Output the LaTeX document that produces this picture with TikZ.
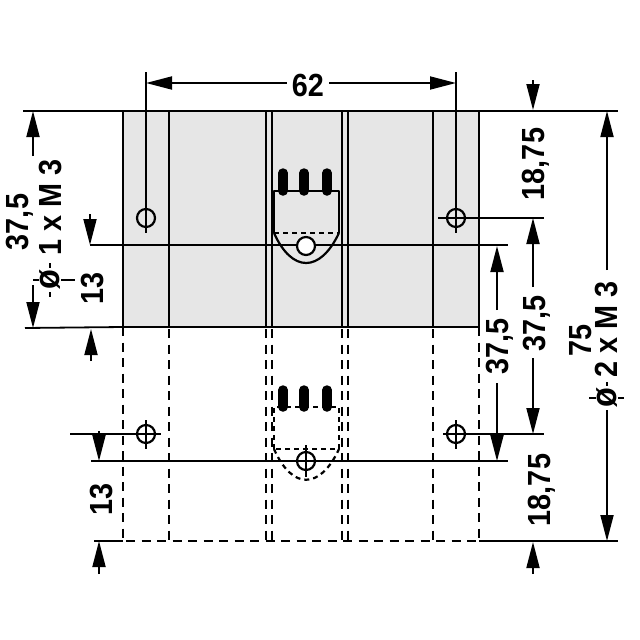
\documentclass[tikz,border=0pt]{standalone}
\usepackage{fontspec}
\setmainfont[FakeStretch=0.9]{Liberation Sans}
\usetikzlibrary{arrows.meta}
\definecolor{plategray}{HTML}{E6E6E6}
\tikzset{
  part/.style={line width=2.2pt},
  hidden/.style={line width=2.2pt, dash pattern=on 9pt off 6.5pt},
  thin line/.style={line width=1.8pt},
  dimarrow/.style={line width=1.8pt, -{Triangle[length=26pt,width=13pt]}},
  dimfont/.style={font=\fontsize{32}{32}\selectfont\bfseries, inner sep=0pt, text height=23pt, text depth=0pt},
  dimtext/.style={dimfont, rotate=90},
  diatext/.style={font=\fontsize{36}{36}\selectfont\bfseries, inner sep=0pt, text height=19pt, text depth=0pt, rotate=90},
  hole/.style={circle, draw, line width=2.2pt, minimum size=18pt, inner sep=0pt},
}
\begin{document}
\begin{tikzpicture}[x=1pt, y=-1pt, line join=round]
        \useasboundingbox (0,0) rectangle (640,640);
        \coordinate (A) at (123,111);
        \coordinate (B) at (479,111);
        \coordinate (C) at (479,327);
        \coordinate (D) at (123,327);
        \coordinate (E) at (479,541);
        \coordinate (F) at (123,541);

        \fill[plategray] (A) rectangle (C);

        % profile lines, solid and hidden
        \foreach \x in {169,266,272,342,348,433} {
            \draw[part] (\x,111)--(\x,327);
            \draw[hidden] (\x,329)--(\x,541);
        }
        \draw[part] (A)--(B)--(C)--(D)--cycle;
        \draw[hidden] (D)--(F)--(E) (C)--(E);

        % connector at top
        \foreach \x in {283,304,327} \draw[line width=9.5pt, line cap=round] (\x,173)--(\x,191);
        \draw[part] (274,233)--(274,191)--(339,191)--(339,233);
        \draw[part, dash pattern=on 5pt off 4pt] (274,233)--(339,233);
        \draw[part] (274,233) .. controls (292,273) and (320,273) .. (339,233);

        % connector below
        \foreach \x in {283,304,327} \draw[line width=9.5pt, line cap=round] (\x,390)--(\x,407);
        \draw[part, dash pattern=on 5pt off 4pt] (274,449)--(274,407)--(339,407)--(339,449)--cycle;
        \draw[part, dash pattern=on 5pt off 4pt] (274,449) .. controls (292,490) and (320,490) .. (339,449);

        % holes and centre lines
        \draw[thin line] (90,245)--(508,245);
        \draw[thin line] (91,461)--(508,461);
        \draw[thin line] (146,72)--(146,233);
        \draw[thin line] (456,72)--(456,233);
        \draw[thin line] (438,218)--(544,218);
        \draw[thin line] (70,434)--(161,434);
        \draw[thin line] (443,434)--(544,434);
        \draw[thin line] (146,420)--(146,449);
        \draw[thin line] (456,420)--(456,449);
        \draw[thin line] (306,445)--(306,477);
        \node[hole] (h1) at (146,218) {};
        \node[hole] (h2) at (456,218) {};
        \node[hole, fill=white] (h3) at (306,246) {};
        \node[hole] (h4) at (146,434) {};
        \node[hole] (h5) at (456,434) {};
        \node[hole] (h6) at (306,461) {};

        % extension lines
        \draw[thin line] (23,111)--(A) (25,328)--(D);
        \draw[thin line] (B)--(618,111);
        \draw[thin line] (E)--(618,541);
        \draw[thin line] (94,541)--(F);

        % width
        \coordinate (wl) at (146,83);
        \coordinate (wr) at (456,83);
        \node[dimfont] (w62) at (308,85) {62};
        \draw[dimarrow] ([xshift=-5pt]w62.west |- wl)--(wl);
        \draw[dimarrow] ([xshift=5pt]w62.east |- wr)--(wr);

        % left
        \node[dimtext] (l375) at (17,222) {37,5};
        \node[dimtext] (lm3) at (50,207) {1 x M 3};
        \node[diatext] (ldia) at (50,280) {ø};
        \node[dimtext] (l13) at (92,288) {13};
        \draw[thin line] (33,280)--(39,280) (61,280)--(75,280) (50,263)--(50,268) (50,292)--(50,297);
        \draw[dimarrow] (33,156)--(33,111);
        \draw[dimarrow] (33,285)--(33,328);
        \draw[dimarrow] (90,214)--(90,245);
        \draw[dimarrow] (91,361)--(91,329);
        \draw[dimarrow] (99,431)--(99,461);
        \draw[dimarrow] (99,574)--(99,541);
        \node[dimtext] (l13b) at (101,499) {13};

        % right
        \node[dimtext] (r1875) at (533,164) {18,75};
        \node[dimtext] (r375) at (534,323) {37,5};
        \node[dimtext] (r375b) at (497,346) {37,5};
        \node[dimtext] (r1875b) at (539,490) {18,75};
        \node[dimtext] (r75) at (580,340) {75};
        \node[dimtext] (rm3) at (606,329) {2 x M 3};
        \node[diatext] (rdia) at (607,398) {ø};
        \draw[thin line] (589,398)--(596,398) (618,398)--(624,398) (607,382)--(607,386) (607,410)--(607,417);
        \draw[dimarrow] (533,80)--(533,110);
        \draw[dimarrow] (533,287)--(533,218);
        \draw[dimarrow] (533,358)--(533,434);
        \draw[dimarrow] (497,310)--(497,246);
        \draw[dimarrow] (497,383)--(497,461);
        \draw[dimarrow] (607,270)--(607,111);
        \draw[dimarrow] (607,417)--(607,541);
        \draw[dimarrow] (533,574)--(533,542);
\end{tikzpicture}
\end{document}
